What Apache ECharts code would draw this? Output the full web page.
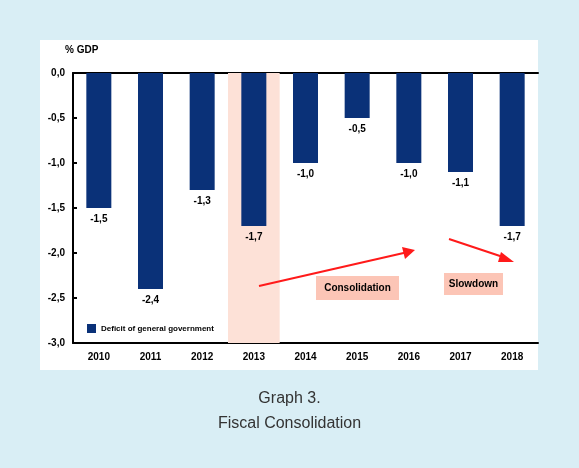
<!DOCTYPE html>
<html>
<head>
<meta charset="utf-8">
<script src="https://cdn.jsdelivr.net/npm/echarts@6/dist/echarts.min.js"></script>
<style>
  html, body { margin: 0; padding: 0; background: #d9eef5; }
  #chart { width: 579px; height: 468px; }
</style>
</head>
<body>
<div id="chart"></div>
<script>
// Fiscal deficit, % of GDP
const years = ['2010', '2011', '2012', '2013', '2014', '2015', '2016', '2017', '2018'];
const deficit = [-1.5, -2.4, -1.3, -1.7, -1.0, -0.5, -1.0, -1.1, -1.7];
const yTicks = [0, -0.5, -1.0, -1.5, -2.0, -2.5, -3.0];
const highlightYear = '2013';

const fmt = v => v.toFixed(1).replace('.', ',');
const narrow = '"Liberation Sans Narrow", "Arial Narrow", "Liberation Sans", sans-serif';
const chart = echarts.init(document.getElementById('chart'));

chart.setOption({
  backgroundColor: '#d9eef5',
  animation: false,
  grid: { left: 73, right: 41, top: 73, bottom: 125 },
  xAxis: [
    {
      type: 'category', data: years, position: 'bottom',
      axisLine: { onZero: false, lineStyle: { color: '#000', width: 2 } },
      axisTick: { inside: true, length: 4, lineStyle: { color: '#000', width: 2 } },
      axisLabel: { color: '#000', fontFamily: narrow, fontWeight: 'bold', fontSize: 10, margin: 9 }
    },
    {
      type: 'category', data: years, position: 'top',
      axisLine: { onZero: false, lineStyle: { color: '#000', width: 2 } },
      axisTick: { inside: true, length: 4, lineStyle: { color: '#000', width: 2 } },
      axisLabel: { show: false }
    }
  ],
  yAxis: {
    type: 'value', min: yTicks[yTicks.length - 1], max: yTicks[0], interval: 0.5,
    name: '% GDP', nameLocation: 'end', nameGap: 18,
    nameTextStyle: { color: '#000', fontFamily: narrow, fontWeight: 'bold', fontSize: 10, align: 'left', padding: [0, 0, 0, -8] },
    axisLine: { show: true, lineStyle: { color: '#000', width: 2 } },
    axisTick: { show: true, inside: true, length: 4, lineStyle: { color: '#000', width: 2 } },
    splitLine: { show: false },
    axisLabel: { color: '#000', fontFamily: narrow, fontWeight: 'bold', fontSize: 10, margin: 8, formatter: v => fmt(v) }
  },
  legend: {
    left: 82, top: 319, itemWidth: 9, itemHeight: 9, itemGap: 4,
    textStyle: { color: '#000', fontFamily: narrow, fontWeight: 'bold', fontSize: 8 },
    data: [{ name: 'Deficit of general government', icon: 'rect' }]
  },
  graphic: [
    { type: 'rect', z: -10, shape: { x: 40, y: 40, width: 498, height: 330 }, style: { fill: '#ffffff' } },
    { type: 'text', left: 'center', top: 391, style: { text: 'Graph 3.', fill: '#333', font: '16px "Liberation Sans", Arial, sans-serif' } },
    { type: 'text', left: 'center', top: 416, style: { text: 'Fiscal Consolidation', fill: '#333', font: '16px "Liberation Sans", Arial, sans-serif' } },
    // annotation arrows
    { type: 'line', z: 20, shape: { x1: 259, y1: 286, x2: 408, y2: 252 }, style: { stroke: '#ff1a1a', lineWidth: 2 } },
    { type: 'polygon', z: 20, shape: { points: [[415, 250], [402, 247], [405, 259]] }, style: { fill: '#ff1a1a' } },
    { type: 'line', z: 20, shape: { x1: 449, y1: 239, x2: 506, y2: 258 }, style: { stroke: '#ff1a1a', lineWidth: 2 } },
    { type: 'polygon', z: 20, shape: { points: [[514, 262], [501, 252], [498, 262]] }, style: { fill: '#ff1a1a' } },
    // annotation labels
    { type: 'rect', z: 20, shape: { x: 316, y: 276, width: 83, height: 24 }, style: { fill: '#fcc5b6' } },
    { type: 'text', z: 21, x: 357.5, y: 288, style: { text: 'Consolidation', fill: '#000', font: 'bold 10px ' + narrow, align: 'center', verticalAlign: 'middle' } },
    { type: 'rect', z: 20, shape: { x: 444, y: 273, width: 59, height: 22 }, style: { fill: '#fcc5b6' } },
    { type: 'text', z: 21, x: 473.5, y: 284, style: { text: 'Slowdown', fill: '#000', font: 'bold 10px ' + narrow, align: 'center', verticalAlign: 'middle' } }
  ],
  series: [{
    name: 'Deficit of general government',
    type: 'bar',
    z: 5,
    data: deficit,
    barWidth: 25,
    itemStyle: { color: '#0a3178' },
    label: {
      show: true, position: 'bottom', distance: 6,
      color: '#000', fontFamily: narrow, fontWeight: 'bold', fontSize: 10,
      formatter: p => fmt(p.value)
    },
    markArea: {
      silent: true,
      itemStyle: { color: '#fde1d7' },
      data: [[{ xAxis: highlightYear }, { xAxis: highlightYear }]]
    }
  }]
});
</script>
</body>
</html>
